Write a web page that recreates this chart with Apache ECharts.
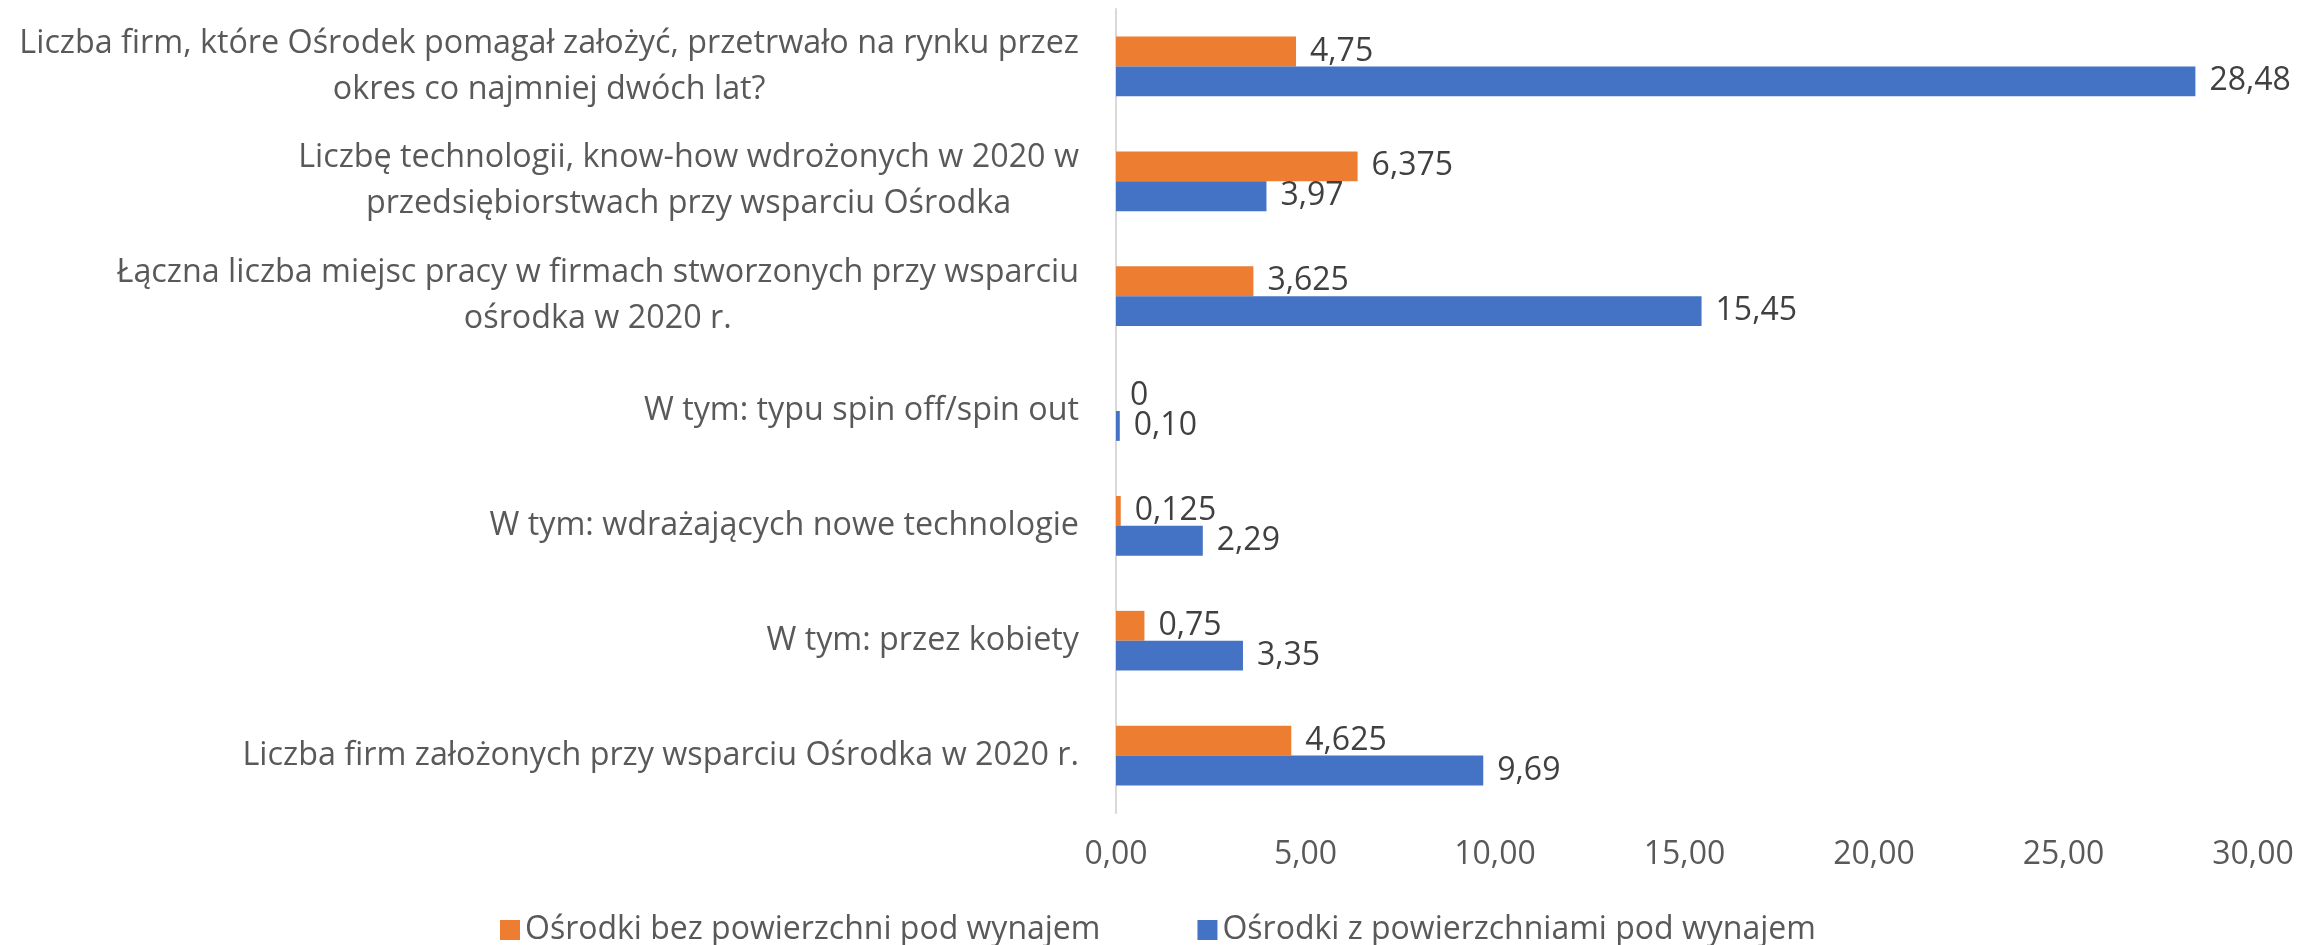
<!DOCTYPE html>
<html>
<head>
<meta charset="utf-8">
<script src="https://cdn.jsdelivr.net/npm/echarts@6/dist/echarts.min.js"></script>
<style>html,body{margin:0;padding:0;background:#fff}#c{width:2303px;height:945px}</style>
</head>
<body>
<div id="c"></div>
<script>
// Categories listed bottom-to-top (ECharts category axis order)
const categories = [
  "Liczba firm założonych przy wsparciu Ośrodka w 2020 r.",
  "W tym: przez kobiety",
  "W tym: wdrażających nowe technologie",
  "W tym: typu spin off/spin out",
  "Łączna liczba miejsc pracy w firmach stworzonych przy wsparciu\nośrodka w 2020 r.",
  "Liczbę technologii, know-how wdrożonych w 2020 w\nprzedsiębiorstwach przy wsparciu Ośrodka",
  "Liczba firm, które Ośrodek pomagał założyć, przetrwało na rynku przez\nokres co najmniej dwóch lat?"
];
const seriesNames = ["Ośrodki bez powierzchni pod wynajem", "Ośrodki z powierzchniami pod wynajem"];
const bezValues = [4.625, 0.75, 0.125, 0, 3.625, 6.375, 4.75];
const zValues = [9.69, 3.35, 2.29, 0.10, 15.45, 3.97, 28.48];
const xTicks = { min: 0, max: 30, interval: 5 };

const FONT = "Open Sans";
const chart = echarts.init(document.getElementById('c'), null, { renderer: 'canvas' });
const comma = s => String(s).replace('.', ',');
chart.setOption({
  animation: false,
  backgroundColor: '#ffffff',
  textStyle: { fontFamily: FONT },
  grid: { left: 1116, right: 50, top: 9, bottom: 132, containLabel: false },
  legend: {
    data: seriesNames,
    top: 909,
    left: 495,
    itemWidth: 20, itemHeight: 20, itemGap: 97,
    icon: 'rect',
    textStyle: { fontFamily: FONT, fontSize: 32, color: '#595959' }
  },
  xAxis: {
    type: 'value', min: xTicks.min, max: xTicks.max, interval: xTicks.interval,
    axisLine: { show: false }, axisTick: { show: false },
    splitLine: { show: false },
    axisLabel: { fontFamily: FONT, fontSize: 32, color: '#595959', margin: 26,
      formatter: v => v.toFixed(2).replace('.', ',') }
  },
  yAxis: {
    type: 'category', data: categories,
    axisLine: { show: true, lineStyle: { color: '#D9D9D9', width: 2 } },
    axisTick: { show: false },
    axisLabel: {
      margin: 37,
      formatter: v => v.split('\n').map(l => '{a|' + l + '}').join('\n'),
      rich: { a: { fontFamily: FONT, fontSize: 32.3, lineHeight: 46, color: '#595959', align: 'center' } }
    }
  },
  series: [
    {
      name: seriesNames[0], type: 'bar', data: bezValues,
      barGap: '0%', barCategoryGap: '48%',
      itemStyle: { color: '#ED7D31' },
      label: { show: true, position: 'right', distance: 14, fontFamily: FONT, fontSize: 32, color: '#404040',
        formatter: p => comma(p.value) }
    },
    {
      name: seriesNames[1], type: 'bar', data: zValues,
      barGap: '0%', barCategoryGap: '48%',
      itemStyle: { color: '#4472C4' },
      label: { show: true, position: 'right', distance: 14, fontFamily: FONT, fontSize: 32, color: '#404040',
        formatter: p => p.value.toFixed(2).replace('.', ',') }
    }
  ]
});
</script>
</body>
</html>
